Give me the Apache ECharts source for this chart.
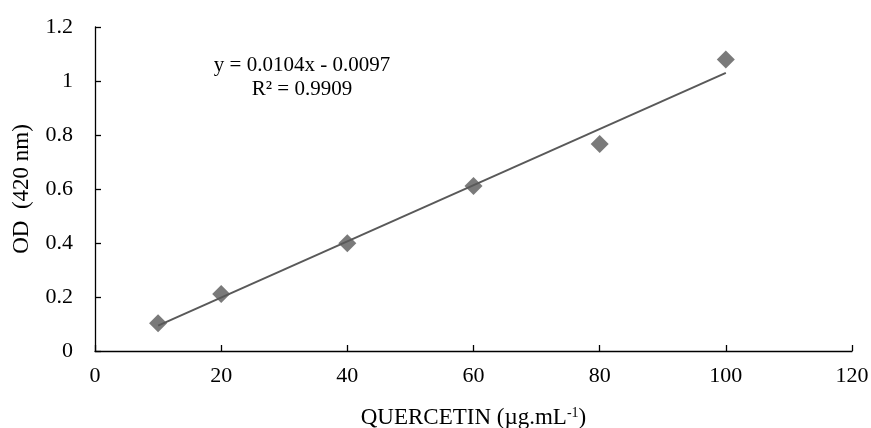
<!DOCTYPE html>
<html>
<head>
<meta charset="utf-8">
<script src="https://cdn.jsdelivr.net/npm/echarts@6/dist/echarts.min.js"></script>
<style>
html, body { margin: 0; padding: 0; background: #fff; }
#main { width: 871px; height: 428px; }
</style>
</head>
<body>
<div id="main"></div>
<script>
// measured points
var concX = [10, 20, 40, 60, 80, 100];
var odY = [0.103, 0.211, 0.399, 0.611, 0.767, 1.080];
// linear trend as printed on the chart
var trendX = [10, 100];
var slope = 0.0104, intercept = -0.0097;
var xTicks = [0, 20, 40, 60, 80, 100, 120];
var yTicks = [0, 0.2, 0.4, 0.6, 0.8, 1, 1.2];

var myChart = echarts.init(document.getElementById('main'));

var pts = concX.map(function(x, i){ return [x, odY[i]]; });
var trend = trendX.map(function(x){ return [x, slope * x + intercept]; });

var font = '"Liberation Serif", "Times New Roman", serif';

var option = {
    backgroundColor: '#fff',
    animation: false,
    title: {
        text: 'y = 0.0104x - 0.0097\nR² = 0.9909',
        left: 297,
        top: 48,
        textAlign: 'center',
        textStyle: {
            fontFamily: font,
            fontSize: 21,
            fontWeight: 'normal',
            color: '#000',
            lineHeight: 24,
            align: 'center'
        }
    },
    grid: {
        left: 95,
        right: 19,
        top: 27,
        bottom: 77,
        outerBoundsMode: 'none'
    },
    xAxis: {
        type: 'value',
        min: xTicks[0],
        max: xTicks[xTicks.length - 1],
        interval: 20,
        name: '{n|QUERCETIN (µg.mL}{s|-1}{n|)}',
        nameLocation: 'middle',
        nameGap: 55,
        nameTextStyle: {
            rich: {
                n: { fontFamily: font, fontSize: 23, color: '#000' },
                s: { fontFamily: font, fontSize: 14, color: '#000', verticalAlign: 'top', padding: [0, 0, 10, 0] }
            }
        },
        axisLine: { lineStyle: { color: '#000', width: 1.3 } },
        axisTick: { inside: true, length: 6, lineStyle: { color: '#000', width: 1.3 } },
        axisLabel: { fontFamily: font, fontSize: 22, color: '#000', margin: 14 },
        splitLine: { show: false }
    },
    yAxis: {
        type: 'value',
        min: yTicks[0],
        max: yTicks[yTicks.length - 1],
        interval: 0.2,
        name: 'OD  (420 nm)',
        nameLocation: 'middle',
        nameRotate: 90,
        nameGap: 62,
        nameTextStyle: { fontFamily: font, fontSize: 23, color: '#000' },
        axisLine: { show: true, lineStyle: { color: '#000', width: 1.3 } },
        axisTick: { show: true, inside: true, length: 6, lineStyle: { color: '#000', width: 1.3 } },
        axisLabel: {
            fontFamily: font, fontSize: 22, color: '#000', margin: 22,
            formatter: function(v){ return String(Math.round(v * 10) / 10); }
        },
        splitLine: { show: false }
    },
    series: [
        {
            name: 'trend',
            type: 'line',
            data: trend,
            symbol: 'none',
            lineStyle: { color: '#595959', width: 2 },
            z: 2
        },
        {
            name: 'OD',
            type: 'scatter',
            data: pts,
            symbol: 'diamond',
            symbolSize: [18, 18],
            itemStyle: { color: '#595959' },
            z: 3
        }
    ]
};

myChart.setOption(option);
</script>
</body>
</html>
